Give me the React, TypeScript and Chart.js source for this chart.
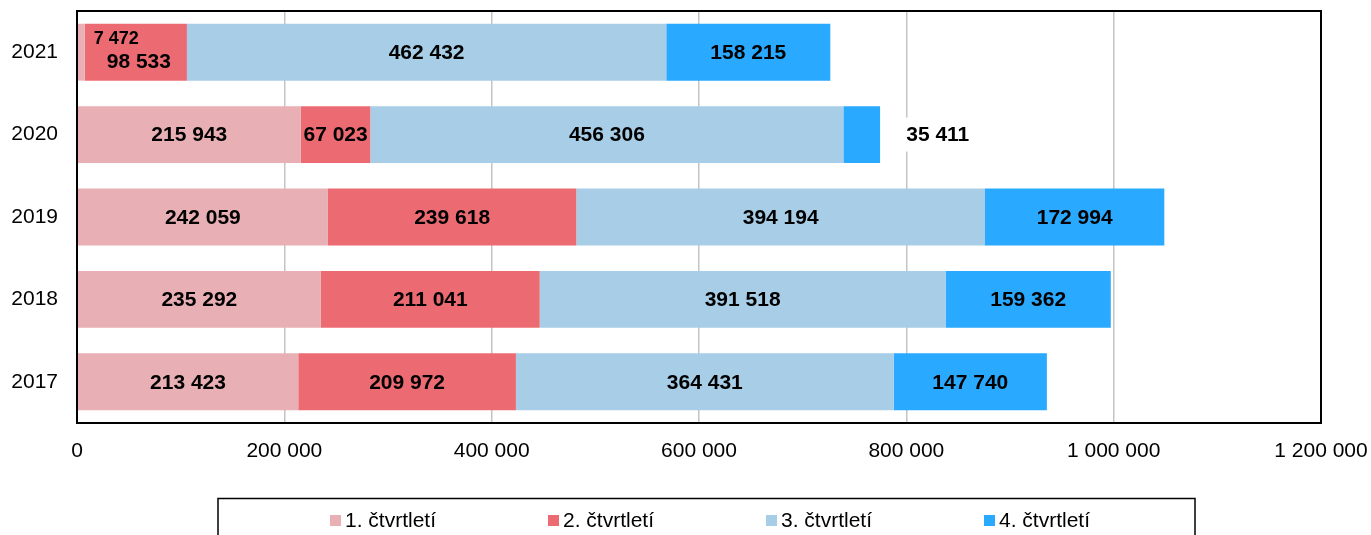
import React, { useEffect, useRef } from "react";
import { Chart, registerables } from "chart.js";

Chart.register(...registerables);

const categories = ["2021", "2020", "2019", "2018", "2017"];
const seriesNames = ["1. čtvrtletí", "2. čtvrtletí", "3. čtvrtletí", "4. čtvrtletí"];
const q1Values = [7472, 215943, 242059, 235292, 213423];
const q2Values = [98533, 67023, 239618, 211041, 209972];
const q3Values = [462432, 456306, 394194, 391518, 364431];
const q4Values = [158215, 35411, 172994, 159362, 147740];
const seriesColors = ["#E8B0B4", "#EC6B72", "#A7CDE7", "#29A9FF"];
const xMin = 0;
const xMax = 1200000;
const xStep = 200000;

const FONT = '"Liberation Sans", Arial, Helvetica, sans-serif';
const W = 1371;
const H = 535;

const fmt = (v: number) => String(Math.round(v)).replace(/\B(?=(\d{3})+(?!\d))/g, " ");

// manual label placement tweaks (datasetIndex-pointIndex)
const labelTweaks: Record<string, { dx: number; dy: number; size?: number; bg?: boolean }> = {
  "0-0": { dx: 35, dy: -14, size: 18 },
  "1-0": { dx: 3, dy: 9 },
  "3-1": { dx: 76, dy: 0, bg: true },
};

const overlayPlugin = {
  id: "overlay",
  afterDraw(chart: any) {
    const ctx = chart.ctx as CanvasRenderingContext2D;
    const area = chart.chartArea;
    ctx.save();
    // plot border
    ctx.strokeStyle = "#000";
    ctx.lineWidth = 2;
    ctx.strokeRect(area.left, area.top, area.right - area.left, area.bottom - area.top);

    // data labels
    chart.data.datasets.forEach((ds: any, di: number) => {
      const meta = chart.getDatasetMeta(di);
      meta.data.forEach((el: any, i: number) => {
        const p = el.getProps(["x", "y", "base"], true);
        const tw = labelTweaks[`${di}-${i}`] || { dx: 0, dy: 0 };
        const size = tw.size || 21;
        const cx = (p.x + p.base) / 2 + tw.dx;
        const cy = p.y + tw.dy;
        const text = fmt(ds.data[i]);
        ctx.font = `bold ${size}px ${FONT}`;
        ctx.textAlign = "center";
        ctx.textBaseline = "middle";
        if (tw.bg) {
          const w = ctx.measureText(text).width;
          ctx.fillStyle = "#fff";
          ctx.fillRect(cx - w / 2 - 4, cy - 17, w + 8, 34);
        }
        ctx.fillStyle = "#000";
        ctx.fillText(text, cx, cy + 1);
      });
    });

    // legend
    ctx.lineWidth = 1.5;
    ctx.strokeStyle = "#000";
    ctx.strokeRect(218, 498.5, 977, 60);
    ctx.font = `21px ${FONT}`;
    ctx.textAlign = "left";
    ctx.textBaseline = "middle";
    seriesNames.forEach((name, k) => {
      const x = 330 + k * 218;
      ctx.fillStyle = seriesColors[k];
      ctx.fillRect(x, 515, 11, 11);
      ctx.fillStyle = "#000";
      ctx.fillText(name, x + 15, 521);
    });
    ctx.restore();
  },
};

export default function App() {
  const ref = useRef<HTMLCanvasElement | null>(null);
  useEffect(() => {
    document.body.style.margin = "0";
    const canvas = ref.current!;
    const values = [q1Values, q2Values, q3Values, q4Values];
    const chart = new Chart(canvas, {
      type: "bar",
      data: {
        labels: categories,
        datasets: seriesNames.map((name, k) => ({
          label: name,
          data: values[k],
          backgroundColor: seriesColors[k],
          borderWidth: 0,
          barPercentage: 0.69,
          categoryPercentage: 1,
        })),
      },
      options: {
        indexAxis: "y",
        animation: false,
        responsive: false,
        devicePixelRatio: 1,
        layout: { padding: { top: 11, right: 50, bottom: 0, left: 0 } },
        plugins: {
          legend: { display: false },
          tooltip: { enabled: false },
        },
        scales: {
          x: {
            stacked: true,
            min: xMin,
            max: xMax,
            ticks: {
              stepSize: xStep,
              font: { family: FONT, size: 21 },
              color: "#000",
              padding: 16,
              maxRotation: 0,
              callback: (v: any) => fmt(Number(v)),
            },
            grid: { color: "#C4C4C4", lineWidth: 1.5, drawTicks: false },
            border: { display: false },
            afterFit: (s: any) => {
              s.height = 112;
              s.paddingLeft = 0;
              s.paddingRight = 0;
            },
          },
          y: {
            stacked: true,
            ticks: {
              font: { family: FONT, size: 21 },
              color: "#000",
              padding: 19,
            },
            grid: { display: false, drawTicks: false },
            border: { display: false },
            afterFit: (s: any) => {
              s.width = 77;
              s.paddingTop = 0;
              s.paddingBottom = 0;
            },
          },
        },
      },
      plugins: [overlayPlugin],
    });
    return () => chart.destroy();
  }, []);
  return (
    <div style={{ position: "absolute", left: 0, top: 0, width: W, height: H, background: "#fff" }}>
      <canvas ref={ref} width={W} height={H} />
    </div>
  );
}
